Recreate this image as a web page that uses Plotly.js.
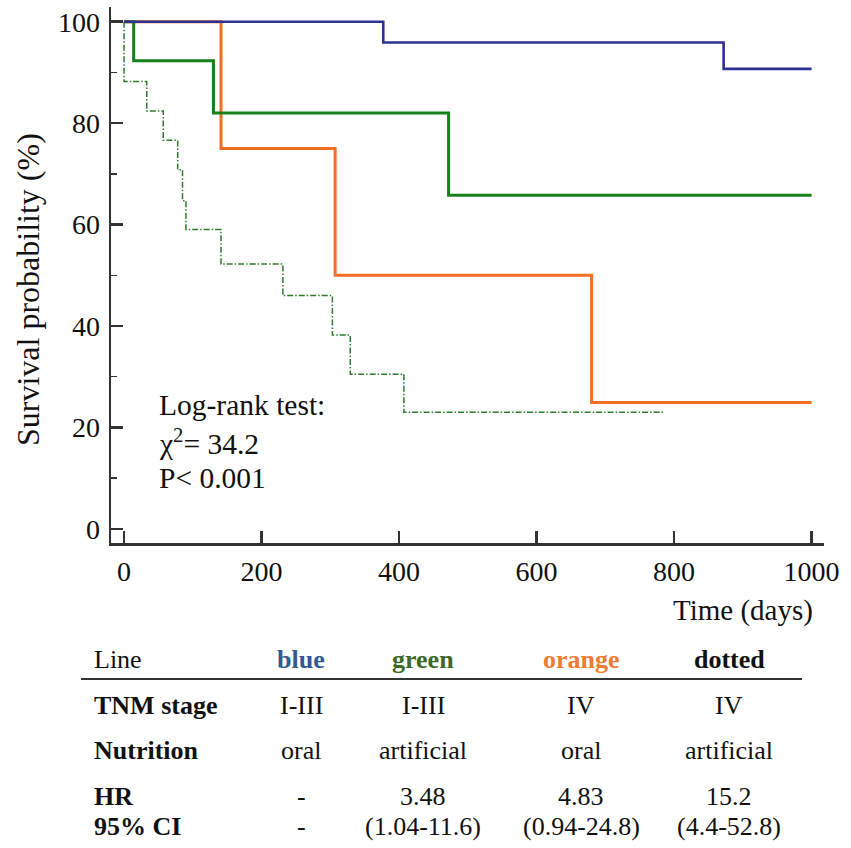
<!DOCTYPE html>
<html>
<head>
<meta charset="utf-8">
<script src="https://cdn.plot.ly/plotly-3.0.1.min.js"></script>
<style>html,body{margin:0;padding:0;background:#fff;}#chart{width:851px;height:848px;}</style>
</head>
<body>
<div id="chart"></div>
<script>
// ---- Kaplan-Meier curve data (days, survival %) ----
const blueTimes   = [0, 377, 872, 1000];
const blueSurv    = [100, 95.9, 90.7, 90.7];
const greenTimes  = [0, 14, 130, 472, 1000];
const greenSurv   = [100, 92.3, 82.0, 65.8, 65.8];
const orangeTimes = [0, 141, 307, 680, 1000];
const orangeSurv  = [100, 75.0, 50.0, 24.9, 24.9];
const dottedTimes = [0, 0, 33, 57, 78, 85, 90, 141, 231, 303, 329, 407, 784];
const dottedSurv  = [100, 88.2, 82.4, 76.6, 70.8, 64.7, 59.0, 52.2, 46.0, 38.2, 30.5, 23.0, 23.0];

const xTicks = [0, 200, 400, 600, 800, 1000];
const yTicks = [0, 20, 40, 60, 80, 100];

const statLines = ["Log-rank test:", "\u03c7<sup>2</sup>= 34.2", "P< 0.001"];

// ---- table below the chart ----
const tableHeaderLabel = "Line";
const tableColumns = ["blue", "green", "orange", "dotted"];
const tableRowLabels = ["TNM stage", "Nutrition", "HR", "95% CI"];
const tnmStage = ["I-III", "I-III", "IV", "IV"];
const nutrition = ["oral", "artificial", "oral", "artificial"];
const hazardRatio = ["-", "3.48", "4.83", "15.2"];
const confInt = ["-", "(1.04-11.6)", "(0.94-24.8)", "(4.4-52.8)"];

// ---- layout geometry (pixels) ----
const W = 851, H = 848;
const L = 111, R = 824, T = 7, B = 543;
const px = x => (x - L) / (R - L);
const py = y => (B - y) / (B - T);
const FONT = '"Liberation Serif", "Times New Roman", serif';

const traces = [
  {x: dottedTimes, y: dottedSurv, mode: 'lines', line: {shape: 'hv', color: '#2f7a2f', width: 1.5, dash: '6px,2px,1.5px,2px'}},
  {x: orangeTimes, y: orangeSurv, mode: 'lines', line: {shape: 'hv', color: '#f26e22', width: 3}},
  {x: greenTimes, y: greenSurv, mode: 'lines', line: {shape: 'hv', color: '#16801a', width: 3}},
  {x: blueTimes, y: blueSurv, mode: 'lines', line: {shape: 'hv', color: '#2e3192', width: 2.6}}
];

const annotations = [];
// y-axis title
annotations.push({xref: 'paper', yref: 'paper', x: px(28), y: py(290), text: 'Survival probability (%)',
  textangle: -90, showarrow: false, xanchor: 'center', yanchor: 'middle', font: {family: FONT, size: 32, color: '#111'}});
// x-axis title
annotations.push({xref: 'paper', yref: 'paper', x: px(815), y: py(610), text: 'Time (days)',
  showarrow: false, xanchor: 'right', yanchor: 'middle', font: {family: FONT, size: 29, color: '#111'}});
// log-rank statistics
const statY = [405, 442, 478];
statLines.forEach((t, i) => annotations.push({xref: 'paper', yref: 'paper', x: px(157), y: py(statY[i]), text: t,
  showarrow: false, xanchor: 'left', yanchor: 'middle', font: {family: FONT, size: 29.5, color: '#111'}}));

// table
const colX = [301, 423, 581, 729];
const colColors = ['#2f5b8f', '#3b6a22', '#ee7d31', '#111'];
const labelX = 92;
annotations.push({xref: 'paper', yref: 'paper', x: px(labelX), y: py(660), text: tableHeaderLabel,
  showarrow: false, xanchor: 'left', yanchor: 'middle', font: {family: FONT, size: 26, color: '#111'}});
tableColumns.forEach((c, i) => annotations.push({xref: 'paper', yref: 'paper', x: px(colX[i]), y: py(660), text: '<b>' + c + '</b>',
  showarrow: false, xanchor: 'center', yanchor: 'middle', font: {family: FONT, size: 26, color: colColors[i]}}));
const rowY = [705, 750, 796, 826];
const rowVals = [tnmStage, nutrition, hazardRatio, confInt];
tableRowLabels.forEach((lab, r) => {
  annotations.push({xref: 'paper', yref: 'paper', x: px(labelX), y: py(rowY[r]), text: '<b>' + lab + '</b>',
    showarrow: false, xanchor: 'left', yanchor: 'middle', font: {family: FONT, size: 26, color: '#111'}});
  rowVals[r].forEach((v, i) => annotations.push({xref: 'paper', yref: 'paper', x: px(colX[i]), y: py(rowY[r]), text: v,
    showarrow: false, xanchor: 'center', yanchor: 'middle', font: {family: FONT, size: 26, color: '#111'}}));
});

const layout = {
  width: W, height: H,
  margin: {l: L, r: W - R, t: T, b: H - B, pad: 0},
  paper_bgcolor: '#fff', plot_bgcolor: '#fff',
  showlegend: false,
  font: {family: FONT, color: '#111'},
  xaxis: {
    range: [-19, 1018], tickvals: xTicks, ticktext: xTicks.map(String),
    showgrid: false, zeroline: false, showline: true, linecolor: '#333', linewidth: 2.5,
    ticks: 'inside', ticklen: 12, tickwidth: 2.5, tickcolor: '#333',
    tickfont: {family: FONT, size: 28, color: '#111'}, ticklabelstandoff: 2
  },
  yaxis: {
    range: [-2.8, 102.9], tickvals: yTicks, ticktext: yTicks.map(String),
    showgrid: false, zeroline: false, showline: true, linecolor: '#333', linewidth: 2.5,
    ticks: 'inside', ticklen: 12, tickwidth: 2.5, tickcolor: '#333',
    minor: {dtick: 10, ticks: 'inside', ticklen: 6, tickwidth: 1.5, tickcolor: '#333', showgrid: false},
    tickfont: {family: FONT, size: 28, color: '#111'}, ticklabelstandoff: 3
  },
  shapes: [
    {type: 'line', xref: 'paper', yref: 'paper', x0: px(81), x1: px(802), y0: py(679), y1: py(679),
     line: {color: '#333', width: 2}}
  ],
  annotations: annotations
};

Plotly.newPlot('chart', traces, layout, {displayModeBar: false, staticPlot: true});
</script>
</body>
</html>
